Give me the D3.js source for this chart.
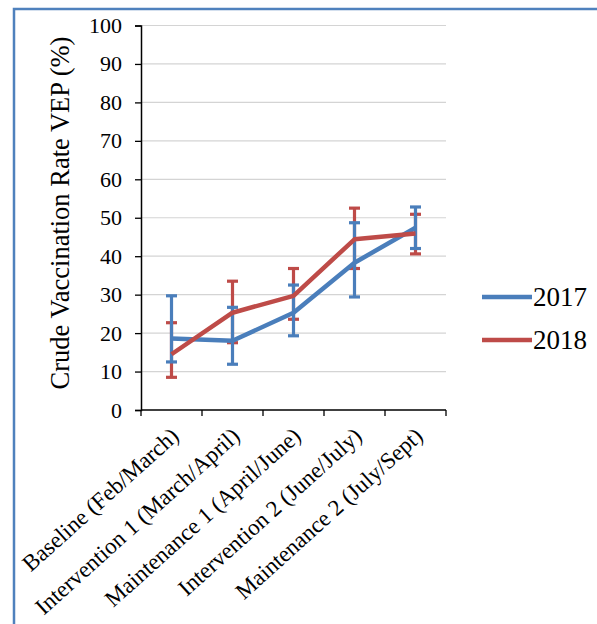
<!DOCTYPE html>
<meta charset="utf-8">
<head>
	<title>Crude Vaccination Rate VEP</title>
	<script src="https://cdn.jsdelivr.net/npm/d3@7"></script>
	<style>
		body { margin: 0; background: #fff; }
		text { font-family: "Liberation Serif", "Times New Roman", serif; fill: #000; }
	</style>
</head>
<body>
<div id="chart"></div>
<script>
	// data
	const categories = ["Baseline (Feb/March)", "Intervention 1 (March/April)", "Maintenance 1 (April/June)",
		"Intervention 2 (June/July)", "Maintenance 2 (July/Sept)"];
	const years = ["2017", "2018"];
	const vep2017 = [18.6, 18.0, 25.3, 38.3, 47.4];
	const low2017 = [12.5, 11.9, 19.3, 29.4, 42.0];
	const high2017 = [29.7, 26.7, 32.5, 48.7, 52.8];
	const vep2018 = [14.5, 25.3, 29.7, 44.4, 45.9];
	const low2018 = [8.5, 17.5, 23.6, 36.8, 40.6];
	const high2018 = [22.7, 33.5, 36.8, 52.5, 50.9];
	const yTicks = [0, 10, 20, 30, 40, 50, 60, 70, 80, 90, 100];

	const width = 597, height = 624;
	const colors = {"2017": "#4a7ebb", "2018": "#be4b48"};

	const svg = d3.select("#chart").append("svg")
		.attr("width", width)
		.attr("height", height);

	svg.append("rect").attr("width", width).attr("height", height).attr("fill", "#fff");

	// blue frame round the picture (only top and left show)
	svg.append("path")
		.attr("d", `M14,${height + 5} L14,9 L${width + 5},9`)
		.attr("fill", "none")
		.attr("stroke", "#4f81bd")
		.attr("stroke-width", 2.5);

	const x = d3.scaleBand().domain(categories).range([141, 446]);
	const y = d3.scaleLinear().domain([0, 100]).range([410, 25.5]);

	// gridlines
	svg.append("g")
		.selectAll("line")
		.data(yTicks.filter(d => d > 0))
		.join("line")
		.attr("x1", 141).attr("x2", 446)
		.attr("y1", d => y(d)).attr("y2", d => y(d))
		.attr("stroke", "#d4d4d4")
		.attr("stroke-width", 1.2);

	// y axis
	const yAxis = svg.append("g")
		.attr("transform", "translate(141,0)")
		.call(d3.axisLeft(y).tickValues(yTicks).tickSize(6).tickPadding(13));
	yAxis.select(".domain").attr("stroke", "#000").attr("stroke-width", 1.5);
	yAxis.selectAll(".tick line").attr("stroke", "#000").attr("stroke-width", 1.3);
	yAxis.selectAll(".tick text")
		.attr("font-family", "Liberation Serif")
		.attr("font-size", 22)
		.attr("fill", "#222");

	// x axis, ticks between categories
	const xAxis = svg.append("g").attr("transform", "translate(0,410)");
	xAxis.append("line")
		.attr("x1", 141).attr("x2", 446)
		.attr("stroke", "#000").attr("stroke-width", 1.5);
	xAxis.selectAll(".xt")
		.data(categories.concat(["end"]))
		.join("line")
		.attr("class", "xt")
		.attr("x1", (d, i) => 141 + i * x.step())
		.attr("x2", (d, i) => 141 + i * x.step())
		.attr("y1", 0).attr("y2", 6)
		.attr("stroke", "#000").attr("stroke-width", 1.3);

	xAxis.selectAll(".xl")
		.data(categories)
		.join("text")
		.attr("class", "xl")
		.attr("transform", d => `translate(${x(d) + x.bandwidth() / 2 - 2},${16}) rotate(-42)`)
		.attr("text-anchor", "end")
		.attr("dy", "0.7em")
		.attr("font-size", 23)
		.attr("fill", "#222")
		.text(d => d);

	// y label
	svg.append("text")
		.attr("transform", "translate(60,213) rotate(-90)")
		.attr("text-anchor", "middle")
		.attr("dy", "0.35em")
		.attr("font-size", 26.5)
		.attr("fill", "#222")
		.text("Crude Vaccination Rate VEP (%)");

	const series = [
		{year: "2017", vals: vep2017, lo: low2017, hi: high2017},
		{year: "2018", vals: vep2018, lo: low2018, hi: high2018}
	];
	const cx = i => x(categories[i]) + x.bandwidth() / 2;

	// error bars first, then lines
	[series[1], series[0]].forEach(s => {
		const g = svg.append("g").attr("stroke", colors[s.year]).attr("stroke-width", 3.2);
		g.selectAll(".v").data(s.vals).join("line")
			.attr("x1", (d, i) => cx(i)).attr("x2", (d, i) => cx(i))
			.attr("y1", (d, i) => y(s.lo[i])).attr("y2", (d, i) => y(s.hi[i]));
		g.selectAll(".lo").data(s.lo).join("line")
			.attr("x1", (d, i) => cx(i) - 5.5).attr("x2", (d, i) => cx(i) + 5.5)
			.attr("y1", d => y(d)).attr("y2", d => y(d));
		g.selectAll(".hi").data(s.hi).join("line")
			.attr("x1", (d, i) => cx(i) - 5.5).attr("x2", (d, i) => cx(i) + 5.5)
			.attr("y1", d => y(d)).attr("y2", d => y(d));
	});

	const line = d3.line().x((d, i) => cx(i)).y(d => y(d));
	series.forEach(s => {
		svg.append("path")
			.datum(s.vals)
			.attr("d", line)
			.attr("fill", "none")
			.attr("stroke", colors[s.year])
			.attr("stroke-width", 4.5)
			.attr("stroke-linejoin", "round");
	});

	// legend
	const legend = svg.append("g");
	years.forEach((yr, i) => {
		const ly = 297 + i * 43;
		legend.append("line")
			.attr("x1", 482).attr("x2", 532)
			.attr("y1", ly).attr("y2", ly)
			.attr("stroke", colors[yr]).attr("stroke-width", 4.5);
		legend.append("text")
			.attr("x", 533).attr("y", ly)
			.attr("dy", "0.35em")
			.attr("font-size", 27)
			.attr("fill", "#222")
			.text(yr);
	});
</script>
</body>
</html>
